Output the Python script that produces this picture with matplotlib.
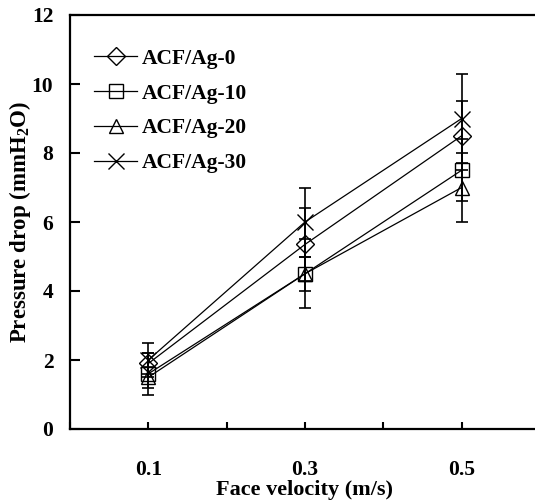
import numpy as np
import matplotlib
matplotlib.use('Agg')
import matplotlib.pyplot as plt

plt.rcParams['font.family'] = ['Liberation Serif', 'DejaVu Serif']
plt.rcParams['font.weight'] = 'bold'
plt.rcParams['mathtext.fontset'] = 'custom'
plt.rcParams['mathtext.rm'] = 'Liberation Serif:bold'
plt.rcParams['mathtext.default'] = 'rm'

# face velocity categories
velocity = ['0.1', '0.3', '0.5']

# pressure drop (mmH2O) per sample
ag0 = [1.9, 5.35, 8.5]
ag10 = [1.6, 4.5, 7.5]
ag20 = [1.5, 4.5, 7.0]
ag30 = [2.0, 6.0, 9.0]

# error bar half-widths
err0 = [0.3, 1.05, 1.0]
err10 = [0.6, 1.0, 0.9]
err20 = [0.3, 0.5, 1.0]
err30 = [0.5, 1.0, 1.3]

names = ['ACF/Ag-0', 'ACF/Ag-10', 'ACF/Ag-20', 'ACF/Ag-30']
markers = ['D', 's', '^', 'x']
msizes = [9, 10, 10, 12]

fig = plt.figure(figsize=(5.35, 5.01), dpi=100)
ax = fig.add_axes([70/535, 1-429/501, 470/535, (429-15)/501])

x = np.arange(len(velocity))
series = [ag0, ag10, ag20, ag30]
errs = [err0, err10, err20, err30]
for i in range(4):
    ax.errorbar(x, series[i], yerr=errs[i], fmt='none', ecolor='black',
                elinewidth=1.2, capsize=4.5, capthick=1.2, zorder=1)
for i in range(4):
    ax.plot(x, series[i], color='black', lw=0.9, marker=markers[i],
            ms=msizes[i], mfc='none', mec='black', mew=1.0, label=names[i], zorder=2)

ax.set_xlim(-0.5, 2.5)
ax.set_ylim(0, 12)
ax.set_xticks(x)
ax.set_xticklabels(velocity)
ax.set_xticks([-0.5, 0.5, 1.5, 2.5], minor=True)
ax.set_yticks(np.arange(0, 13, 2))

ax.tick_params(axis='x', which='both', direction='in', length=5, width=1.5, pad=22, labelsize=15.5)
ax.tick_params(axis='y', direction='in', length=7, width=1.5, pad=12, labelsize=15.5)
for s in ax.spines.values():
    s.set_linewidth(1.6)

ax.set_xlabel('Face velocity (m/s)', fontsize=16, fontweight='bold', labelpad=0)
ax.set_ylabel('Pressure drop (mmH$_{2}$O)', fontsize=16.5, fontweight='bold', labelpad=-1)

leg = ax.legend(loc='upper left', frameon=False, fontsize=15.5, handlelength=2.0,
                handletextpad=0.2, labelspacing=0.68, bbox_to_anchor=(0.01, 0.965))

fig.savefig('out.png', dpi=100)
